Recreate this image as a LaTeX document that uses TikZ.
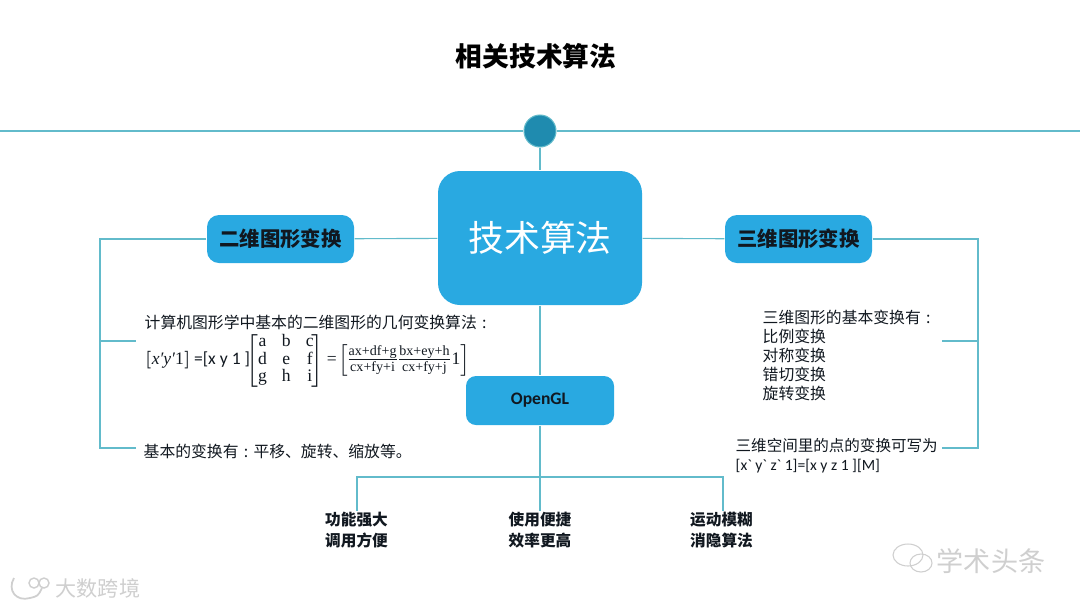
\documentclass[tikz,border=0pt]{standalone}
\usepackage{amsmath}
\usepackage{array}
\usepackage{fontspec}
\setmainfont{Noto Sans CJK SC}
\newfontfamily\latinfont{Carlito}
\newfontfamily\formulafont{Liberation Serif}
\definecolor{boxblue}{HTML}{29A9E1}
\definecolor{dotblue}{HTML}{1F8BAF}
\definecolor{linkteal}{HTML}{62BBCB}
\definecolor{inkdark}{HTML}{111820}
\definecolor{markgray}{HTML}{CFCFCF}
\newcommand{\widecolon}{\hspace{1.5pt}:\hspace{1.5pt}}
\newcommand{\ratio}[2]{{\fontsize{4}{4.7}\formulafont\begin{tabular}[c]{@{}c@{}}#1\\[-0.5pt]\hline #2\end{tabular}}}
\tikzset{
  linkline/.style={draw=linkteal, line width=0.32pt},
  topicbox/.style={fill=boxblue, rounded corners=1.2mm, minimum width=1.47cm, minimum height=0.48cm, text=inkdark, font=\fontsize{5.8}{6.8}\selectfont\bfseries},
  bodytext/.style={anchor=west, inner sep=0pt, text=inkdark, font=\fontsize{4.5}{5.4}\selectfont},
  resulttext/.style={align=center, inner sep=0pt, text=inkdark, font=\fontsize{4.45}{6.2}\selectfont\bfseries},
  marktext/.style={inner sep=0pt, text=markgray, font=\fontsize{7.7}{9}\selectfont}
}
\begin{document}
\begin{tikzpicture}
  % Page
  \useasboundingbox (0,0) rectangle (10.8,6.08);
  \fill [white] (0,0) rectangle (10.8,6.08);
  % Title
  \node [inner sep=0pt, font=\fontsize{7.6}{9}\selectfont\bfseries] (title) at (5.36,5.52) {相关技术算法};
  % Top rule and dot
  \coordinate (ruleleft) at (0,4.77);
  \coordinate (ruleright) at (10.8,4.77);
  \node [circle, fill=dotblue, draw=linkteal, line width=0.3pt, minimum size=0.32cm, inner sep=0pt] (dot) at (5.4,4.77) {};
  \draw [linkline] (ruleleft) -- (dot) -- (ruleright);
  % Boxes
  \node [fill=boxblue, rounded corners=2.2mm, minimum width=2.04cm, minimum height=1.34cm, text=white, font=\fontsize{10.2}{12}\selectfont] (core) at (5.4,3.70) {技术算法};
  \node [topicbox] (twod) at (2.805,3.69) {\raisebox{0.8pt}{二维图形变换}};
  \node [topicbox] (threed) at (7.985,3.69) {\raisebox{0.8pt}{三维图形变换}};
  \node [fill=boxblue, rounded corners=1mm, minimum width=1.48cm, minimum height=0.49cm, text=inkdark, font=\fontsize{5}{6}\latinfont\bfseries] (opengl) at (5.4,2.075) {OpenGL};
  % Links between boxes
  \draw [linkline] (dot) -- (core);
  \draw [linkline] (core) -- (twod);
  \draw [linkline] (core) -- (threed);
  \draw [linkline] (core) -- (opengl);
  % Left text
  \node [bodytext] (algo) at (1.44,2.86) {计算机图形学中基本的二维图形的几何变换算法\widecolon};
  \node [bodytext, font=\fontsize{5}{5.05}\formulafont] (formula) at (1.44,2.475) {$\left[\hbox{{\itshape x′y′}1}\right]$\hspace{0.9pt}{\latinfont =[x y 1 ]}\hspace{-1.1pt}$\left[\begin{tabular}{@{}wc{2.6pt}@{\hspace{4.1pt}}wc{2.6pt}@{\hspace{4.1pt}}wc{2.6pt}@{\hspace{-0.8pt}}}a & b & c\\ d & e & f\\ g & h & i\end{tabular}\right]$\hspace{1pt}=\hspace{0.6pt}$\left[\hbox{\ratio{ax+df+g}{cx+fy+i}\hspace{0.8pt}\ratio{bx+ey+h}{cx+fy+j}\hspace{0.6pt}1}\right]$};
  \node [bodytext] (basic) at (1.43,1.57) {基本的变换有\widecolon 平移、旋转、缩放等。};
  % Left bracket
  \coordinate (lefttop) at (1,3.69);
  \coordinate (leftbottom) at (1,1.6);
  \coordinate (leftmid) at (1,2.67);
  \coordinate (lefttick) at (1.36,2.67);
  \coordinate (leftend) at (1.36,1.6);
  \draw [linkline] (twod) -- (lefttop) -- (leftbottom) -- (leftend);
  \draw [linkline] (leftmid) -- (lefttick);
  % Right text
  \node [bodytext, align=left] (kinds) at (7.62,2.53) {三维图形的基本变换有\widecolon\\比例变换\\对称变换\\错切变换\\旋转变换};
  \node [bodytext, font=\fontsize{4.42}{5.3}\selectfont] (space) at (7.35,1.62) {三维空间里的点的变换可写为};
  \node [bodytext, font=\fontsize{4.45}{5}\latinfont] (spaceform) at (7.35,1.42) {[x` y` z` 1]=[x y z 1 ][M]};
  % Right bracket
  \coordinate (righttop) at (9.78,3.69);
  \coordinate (rightbottom) at (9.78,1.6);
  \coordinate (rightmid) at (9.78,2.67);
  \coordinate (righttick) at (9.42,2.67);
  \coordinate (rightend) at (9.42,1.6);
  \draw [linkline] (threed) -- (righttop) -- (rightbottom) -- (rightend);
  \draw [linkline] (rightmid) -- (righttick);
  % Results under OpenGL
  \node [resulttext] (power) at (3.565,0.78) {功能强大\\调用方便};
  \node [resulttext] (easy) at (5.4,0.78) {使用便捷\\效率更高};
  \node [resulttext] (blur) at (7.215,0.78) {运动模糊\\消隐算法};
  \coordinate (busleft) at (3.57,1.31);
  \coordinate (busmid) at (5.4,1.31);
  \coordinate (busright) at (7.23,1.31);
  \draw [linkline] (opengl) -- (busmid) -- (easy);
  \draw [linkline] (power.north -| busleft) -- (busleft) -- (busright) -- (blur.north -| busright);
  % Watermarks
  \node [marktext] (markright) at (9.91,0.47) {学术头条};
  \node [marktext, font=\fontsize{6}{7}\selectfont] (markleft) at (0.98,0.2) {大数跨境};
  \draw [markgray, line width=0.3pt] (9.08,0.53) ellipse (0.15 and 0.11);
  \draw [markgray, line width=0.3pt] (9.21,0.45) ellipse (0.11 and 0.09);
  \draw [markgray, line width=0.5pt] (0.14,0.3) .. controls (0.07,0.18) and (0.16,0.06) .. (0.3,0.1) .. controls (0.38,0.12) .. (0.42,0.2);
  \draw [markgray, line width=0.4pt] (0.34,0.25) circle (0.05) (0.44,0.25) circle (0.05);
\end{tikzpicture}
\end{document}
